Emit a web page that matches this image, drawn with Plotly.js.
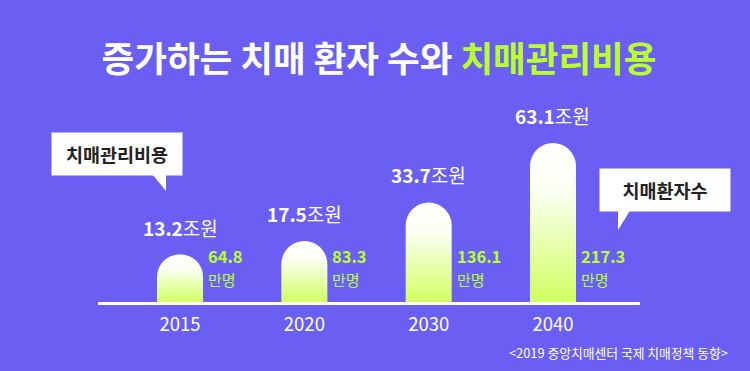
<!DOCTYPE html>
<html>
<head>
<meta charset="utf-8">
<script src="https://cdn.plot.ly/plotly-3.0.1.min.js"></script>
<style>
html,body{margin:0;padding:0;background:#6A5FF2;}
#chart{width:750px;height:371px;}
</style>
</head>
<body>
<div id="chart"></div>
<script>
// ---- data ----
const years = ['2015', '2020', '2030', '2040'];
const patients = [64.8, 83.3, 136.1, 217.3];     // 만명 (치매환자수)
const costs = [13.2, 17.5, 33.7, 63.1];          // 조원 (치매관리비용)
const titleMain = '증가하는 치매 환자 수와 ';
const titleAccent = '치매관리비용';
const costLabel = '치매관리비용';
const patientLabel = '치매환자수';
const sourceText = '<2019 중앙치매센터 국제 치매정책 동향>';

// ---- layout helpers ----
const W = 750, H = 371;
const M = {l: 98, r: 110, t: 100, b: 69};
const PW = W - M.l - M.r, PH = H - M.t - M.b;
const px = x => (x - M.l) / PW;
const py = y => (H - M.b - y) / PH;
const BG = '#6A5FF2';
const LIME = '#B9FF2E';
const FONT = '"Noto Sans CJK KR", "Noto Sans", sans-serif';

const trace = {
  type: 'bar',
  x: years,
  y: patients,
  marker: {color: '#EAFFB8', cornerradius: '50%', line: {width: 0}},
  hoverinfo: 'skip'
};

const annotations = [];
years.forEach((yr, i) => {
  annotations.push({
    x: i, y: patients[i], xref: 'x', yref: 'y',
    text: '<b>' + costs[i] + '</b>조원',
    showarrow: false, yanchor: 'bottom', yshift: 12,
    font: {family: FONT, size: 19, color: '#FFFFFF'}
  });
  annotations.push({
    x: i, y: py(256), xref: 'x', yref: 'paper',
    text: '<b>' + patients[i] + '</b>',
    showarrow: false, xanchor: 'left', yanchor: 'middle',
    xshift: 27, borderpad: 0,
    font: {family: FONT, size: 16.5, color: LIME}
  });
  annotations.push({
    x: i, y: py(279.5), xref: 'x', yref: 'paper',
    text: '만명',
    showarrow: false, xanchor: 'left', yanchor: 'middle',
    xshift: 27, borderpad: 0,
    font: {family: FONT, size: 15, color: LIME}
  });
});
// callouts
annotations.push({
  x: px(116.5), y: py(154), xref: 'paper', yref: 'paper',
  text: '<b>' + costLabel + '</b>', showarrow: false,
  width: 126, height: 38, borderpad: 2, bgcolor: '#FFFFFF',
  xanchor: 'center', yanchor: 'middle',
  font: {family: FONT, size: 18.5, color: '#222222'}
});
annotations.push({
  x: px(665), y: py(190), xref: 'paper', yref: 'paper',
  text: '<b>' + patientLabel + '</b>', showarrow: false,
  width: 126, height: 38, borderpad: 2, bgcolor: '#FFFFFF',
  xanchor: 'center', yanchor: 'middle',
  font: {family: FONT, size: 18.5, color: '#222222'}
});
// source
annotations.push({
  x: px(730), y: py(352), xref: 'paper', yref: 'paper',
  text: sourceText.replace('<', '&lt;').replace('>', '&gt;'), showarrow: false,
  xanchor: 'right', yanchor: 'middle',
  font: {family: FONT, size: 12.8, color: '#FFFFFF'}
});

function pathFromPx(pts) {
  return 'M' + pts.map(p => px(p[0]) + ',' + py(p[1])).join(' L') + ' Z';
}
const shapes = [
  {type: 'path', xref: 'paper', yref: 'paper', line: {width: 0}, fillcolor: '#FFFFFF',
   path: pathFromPx([[152, 174], [166, 174], [166, 191]])},
  {type: 'path', xref: 'paper', yref: 'paper', line: {width: 0}, fillcolor: '#FFFFFF',
   path: pathFromPx([[618, 209], [631, 209], [618, 230]])}
];

const layout = {
  width: W, height: H,
  margin: M,
  paper_bgcolor: BG, plot_bgcolor: BG,
  showlegend: false,
  bargap: 0.63,
  title: {
    text: '<b>' + titleMain + '<span style="color:' + LIME + '">' + titleAccent + '</span></b>',
    x: px(379), xanchor: 'center', xref: 'paper',
    y: 1 - 60 / H, yanchor: 'middle', yref: 'container',
    font: {family: FONT, size: 35.5, color: '#FFFFFF'}
  },
  xaxis: {
    type: 'category', range: [-0.66, 3.70], fixedrange: true,
    showgrid: false, zeroline: false,
    showline: true, linecolor: '#FFFFFF', linewidth: 2.5,
    ticks: 'outside', ticklen: 4, tickcolor: 'rgba(0,0,0,0)',
    tickfont: {family: FONT, size: 18.5, color: '#FFFFFF'}
  },
  yaxis: {
    range: [0, 276], visible: false, fixedrange: true,
    showgrid: false, zeroline: false
  },
  annotations: annotations,
  shapes: shapes
};

Plotly.newPlot('chart', [trace], layout, {displayModeBar: false, staticPlot: true}).then(gd => {
  const svg = gd.querySelector('.main-svg');
  const NS = 'http://www.w3.org/2000/svg';
  let defs = svg.querySelector('defs');
  if (!defs) { defs = document.createElementNS(NS, 'defs'); svg.insertBefore(defs, svg.firstChild); }
  const g = document.createElementNS(NS, 'linearGradient');
  g.setAttribute('id', 'barGrad');
  g.setAttribute('x1', '0'); g.setAttribute('y1', '0');
  g.setAttribute('x2', '0'); g.setAttribute('y2', '1');
  [['0', '#FFFFFF'], ['0.3', '#FBFFF2'], ['1', '#D2FF62']].forEach(s => {
    const st = document.createElementNS(NS, 'stop');
    st.setAttribute('offset', s[0]); st.setAttribute('stop-color', s[1]);
    g.appendChild(st);
  });
  defs.appendChild(g);
  gd.querySelectorAll('.bars .point path').forEach(p => { p.style.fill = 'url(#barGrad)'; });
});
</script>
</body>
</html>
